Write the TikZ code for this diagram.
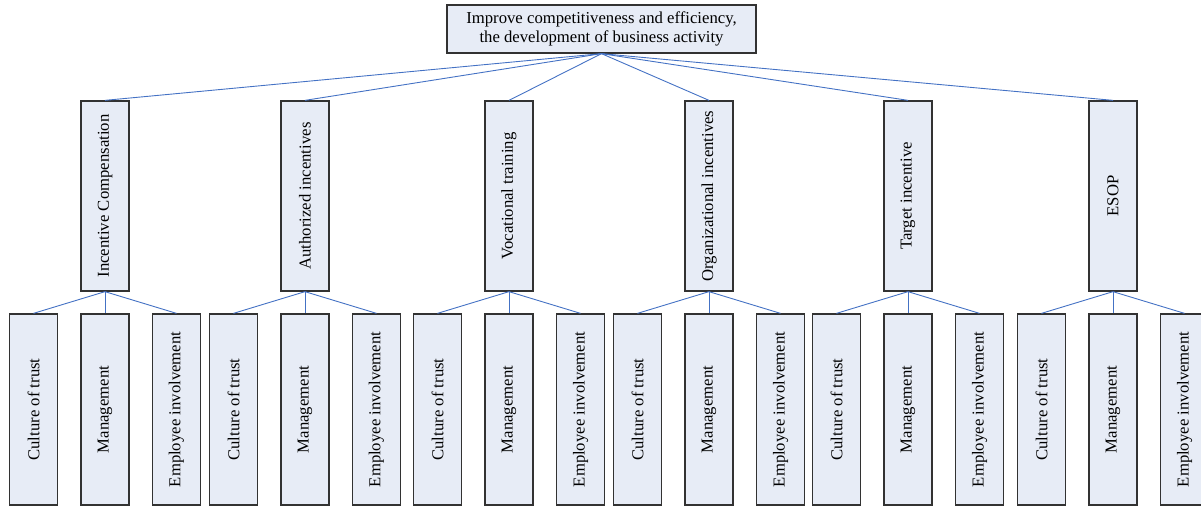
\documentclass[tikz,border=0pt]{standalone}
\usepackage{graphicx}
\usepackage{fontspec}
\setmainfont{Liberation Serif}
\definecolor{boxfill}{RGB}{231,236,246}
\definecolor{boxline}{RGB}{50,50,50}
\definecolor{connline}{RGB}{68,114,196}
\begin{document}
\begin{tikzpicture}[x=1pt,y=-1pt,
  box/.style={draw=boxline, fill=boxfill, line width=1.3pt, inner sep=0pt,
    font=\fontsize{16.7}{19}\selectfont},
  topbox/.style={box, minimum width=309pt, minimum height=48pt, align=center},
  midbox/.style={box, minimum width=48pt, minimum height=190pt},
  lowbox/.style={box, minimum width=48pt, minimum height=191pt},
  conn/.style={draw=connline, line width=0.9pt}]
\useasboundingbox (0,0) rectangle (1201,506);
\node[topbox] (top) at (601.5,29) {Improve competitiveness and efficiency,\\the development of business activity};
\foreach \i/\cx/\lab in {1/105/Incentive Compensation, 2/305/Authorized incentives, 3/509/Vocational training, 4/709/Organizational incentives, 5/908/Target incentive, 6/1113/ESOP} {
  \node[midbox] (m\i) at (\cx,196) {\rotatebox{90}{\lab}};
  \draw[conn] (top.south) -- (m\i.north);
  \node[lowbox] (b\i a) at (\cx-71.5,409.5) {\rotatebox{90}{Culture of trust}};
  \node[lowbox] (b\i b) at (\cx,409.5) {\rotatebox{90}{Management}};
  \node[lowbox] (b\i c) at (\cx+71.5,409.5) {\rotatebox{90}{Employee involvement}};
  \draw[conn] (m\i.south) -- (b\i a.north);
  \draw[conn] (m\i.south) -- (b\i b.north);
  \draw[conn] (m\i.south) -- (b\i c.north);
}
\end{tikzpicture}
\end{document}
